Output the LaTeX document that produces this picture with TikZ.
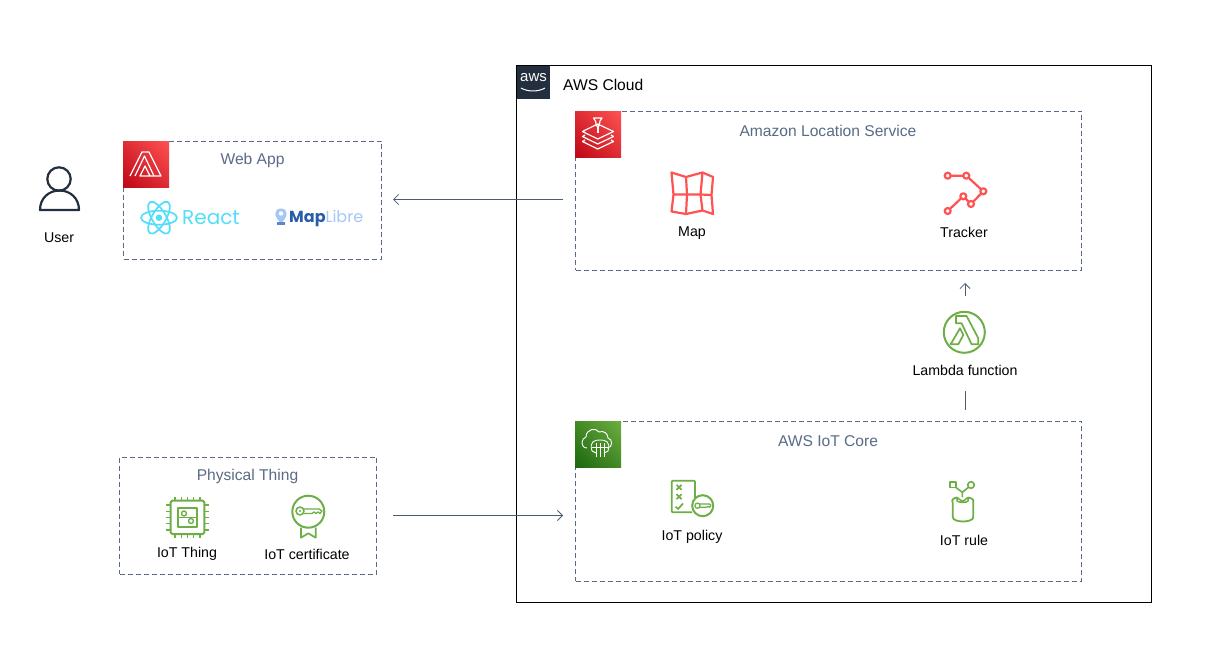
\documentclass[tikz,border=0pt]{standalone}
\usepackage{fontspec}
\setmainfont{Liberation Sans}
\newfontfamily\logofont{Poppins}
\usetikzlibrary{arrows.meta,shadings}
\definecolor{slate}{HTML}{5A6B86}
\definecolor{squid}{HTML}{232F3E}
\definecolor{redlo}{HTML}{BD0816}
\definecolor{redhi}{HTML}{FF5252}
\definecolor{greenlo}{HTML}{1B660F}
\definecolor{greenhi}{HTML}{6CAE3E}
\definecolor{iotgreen}{HTML}{6DAE45}
\definecolor{reactblue}{HTML}{53DEFB}
\definecolor{mapdark}{HTML}{295DAA}
\definecolor{maplight}{HTML}{A3C8F7}
\tikzset{
  groupbox/.style={draw=slate,dashed,dash pattern=on 5pt off 3pt,line width=0.9pt,inner sep=0pt},
  grouptext/.style={text=slate,font=\fontsize{15.6}{18}\selectfont},
  itemtext/.style={text=black,font=\fontsize{14.2}{16}\selectfont},
  tagbox/.style={anchor=north west,inner sep=0pt,minimum size=46pt},
  tagred/.style={tagbox,lower left=redlo,upper right=redhi,upper left=redlo!50!redhi,lower right=redlo!50!redhi},
  taggreen/.style={tagbox,lower left=greenlo,upper right=greenhi,upper left=greenlo!50!greenhi,lower right=greenlo!50!greenhi},
  tagline/.style={draw=white,line width=1.2pt,line join=round},
  redicon/.style={draw=redhi,line width=2.2pt,line join=round},
  greenicon/.style={draw=iotgreen,line width=2pt,line join=round},
  flow/.style={draw=slate!85!black,line width=0.8pt},
  flowarrow/.style={flow,-{Straight Barb[length=5pt,width=10pt]}}
}
\begin{document}
\begin{tikzpicture}[x=1pt,y=-1pt]
\useasboundingbox[fill=white] (0,0) rectangle (1223,660);

\node (cloud) [draw=black,line width=1pt,minimum width=635pt,minimum height=536pt,inner sep=0pt] at (834,334) {};
\node (awstag) [anchor=north west,fill=squid,minimum size=33pt,inner sep=0pt] at (517,66) {};
\node (awslogo) [text=white,font=\fontsize{15}{16}\selectfont] at (533.5,77.5) {aws};
\draw[white,line width=1pt] (521,88) .. controls (528,92) and (538,92) .. (545,88);
\node (cloudlabel) [anchor=west,text=black,font=\fontsize{15.6}{18}\selectfont] at (559.7,84.5) {AWS Cloud};

\node (location) [groupbox,minimum width=506pt,minimum height=159pt] at (828.5,190.5) {};
\node (iotcore) [groupbox,minimum width=506pt,minimum height=160pt] at (828.5,501) {};
\node (webapp) [groupbox,minimum width=258pt,minimum height=118pt] at (252.5,200) {};
\node (physical) [groupbox,minimum width=257pt,minimum height=117pt] at (248,515.5) {};

\node (locationlabel) [grouptext] at (828,130.5) {Amazon Location Service};
\node (iotcorelabel) [grouptext] at (828,441) {AWS IoT Core};
\node (webapplabel) [grouptext] at (252.5,160.5) {Web App};
\node (physicallabel) [grouptext] at (247.5,476) {Physical Thing};

\node (webtag) [tagred] at (123,141) {};
\begin{scope}[shift={(123,141)}]
\draw[tagline] (7,35) -- (19,11) -- (26,11) -- (38,35) -- (17,35) -- (22,25) -- (27,35);
\draw[tagline] (12,35) -- (21.5,15) -- (31,35);
\end{scope}

\node (locationtag) [tagred] at (575,111) {};
\begin{scope}[shift={(575,111)}]
\draw[tagline] (18.5,7) -- (27,7) -- (25,10) -- (24,15) -- (21.5,15) -- (20.5,10) -- cycle;
\draw[tagline] (7.5,20.5) -- (22.7,13) -- (38.5,20.5) -- (22.7,28) -- cycle;
\draw[tagline] (10,24) -- (7.5,25.5) -- (22.7,33) -- (38.5,25.5) -- (36,24);
\draw[tagline] (10,29) -- (7.5,30.5) -- (22.7,38) -- (38.5,30.5) -- (36,29);
\draw[tagline,line width=1.6pt] (22.7,15) -- (22.7,22);
\end{scope}

\node (iottag) [taggreen] at (575,421) {};
\begin{scope}[shift={(575,421)}]
\draw[tagline,line width=0.9pt] (12,27) .. controls (5,27) and (6,17) .. (11,16) .. controls (11,8) and (21,6) .. (24,11) .. controls (29,9) and (33,13) .. (33,17) .. controls (38,18) and (38,27) .. (32,27);
\draw[tagline,line width=0.9pt] (17,30) .. controls (14,20) and (20,19) .. (25,19) .. controls (30,19) and (36,20) .. (33,30) -- (29,32);
\draw[tagline,line width=0.9pt] (21,32) -- (17,30);
\foreach \xpos in {21,25,29} \draw[tagline,line width=0.9pt] (\xpos,22) -- (\xpos,36);
\draw[tagline,line width=0.9pt] (17,26) -- (33,26);
\end{scope}

\draw[squid,line width=2.2pt] (59,179) circle [radius=11.7pt];
\draw[squid,line width=2.2pt,line join=round] (40,210) .. controls (40,198) and (49,190.5) .. (59.5,190.5) .. controls (70,190.5) and (79,198) .. (79,210) -- cycle;
\node (userlabel) [itemtext] at (59,237.5) {User};

\begin{scope}[shift={(159,217.7)}]
\foreach \tilt in {0,60,120}
  \draw[reactblue,line width=1.7pt,rotate=\tilt] (0,0) ellipse [x radius=18pt,y radius=7pt];
\fill[reactblue] (0,0) circle [radius=3.3pt];
\end{scope}
\node (reactlogo) [anchor=west,inner sep=0pt,text=reactblue,font=\logofont\fontsize{20}{22}\selectfont] at (182,218) {React};

\fill[maplight] (281,208.5) .. controls (273.5,208.5) and (273.5,217) .. (281,223) .. controls (288.5,217) and (288.5,208.5) .. (281,208.5) -- cycle;
\fill[white] (281,213.5) circle [radius=2.2pt];
\fill[mapdark!60!maplight] (277,222.5) rectangle (285,225.5);
\node (maplibrelogo) [anchor=west,inner sep=0pt,font=\logofont\fontsize{16}{18}\selectfont] at (289,218.5) {\textcolor{mapdark}{\bfseries Map}\textcolor{maplight}{Libre}};

\draw[redicon] (671.5,172.5) -- (686,177) -- (702.5,172.5) -- (713,177) -- (711.5,195) -- (713,214) -- (702.5,210.5) -- (686,214) -- (671.5,211.5) -- (673.5,194.5) -- cycle;
\draw[redicon] (686,177) -- (687,194.5) -- (686,214);
\draw[redicon] (702.5,172.5) -- (700.5,194.5) -- (702.5,210.5);
\draw[redicon] (673.5,194.5) -- (687,194.5) -- (700.5,194.5) -- (711.5,195);
\node (maplabel) [itemtext] at (692,233.5) {Map};

\draw[redicon] (947.7,175.7) -- (966.3,175.7) -- (983.3,191.3) -- (971,204) -- (963.3,196.3) -- (947.7,211);
\foreach \xpos/\ypos in {947.7/175.7,966.3/175.7,983.3/191.3,971/204,963.3/196.3,947.7/211}
  \draw[redicon,fill=white] (\xpos,\ypos) circle [radius=3pt];
\node (trackerlabel) [itemtext] at (964,232) {Tracker};

\begin{scope}[shift={(964.3,332.3)}]
\draw[greenicon] (0,0) circle [radius=20.5pt];
\draw[greenicon,line width=1.7pt] (-8.3,-16.3) -- (2.3,-16.3) -- (14,6) -- (14,12) -- (7.3,12) -- (-2.7,-9) -- (-8.3,-9) -- cycle;
\draw[greenicon,line width=1.7pt] (-13.7,12) -- (-4.3,-4) -- (-1,2.7) -- (-6,12) -- cycle;
\end{scope}
\node (lambdalabel) [itemtext] at (965,370) {Lambda function};

\draw[greenicon,rounded corners=1.5pt] (170.7,500.7) rectangle (204.3,534);
\draw[greenicon,line width=1.7pt] (178.3,508.3) rectangle (197.3,526.7);
\draw[greenicon,line width=1.5pt] (178.3,517.5) -- (197.3,517.5);
\draw[greenicon,line width=1.4pt,fill=white] (184,513.5) circle [radius=2.5pt] (191,521) circle [radius=2.5pt];
\foreach \offset in {0,1,2,3,4} {
  \draw[iotgreen,line width=1.4pt] (175+\offset*6.2,496.5) -- (175+\offset*6.2,500.7) (175+\offset*6.2,534) -- (175+\offset*6.2,538.3);
  \draw[iotgreen,line width=1.4pt] (166,505+\offset*6.2) -- (170.7,505+\offset*6.2) (204.3,505+\offset*6.2) -- (209,505+\offset*6.2);
}
\node (thinglabel) [itemtext] at (187,553.5) {IoT Thing};

\draw[greenicon] (308.3,511.7) circle [radius=16pt];
\draw[greenicon,line width=1.6pt] (300,511) circle [radius=4pt];
\fill[iotgreen] (300,511) circle [radius=1.2pt];
\draw[greenicon,line width=1.3pt] (304,509) -- (319,509) -- (322,511) -- (320,513.5) -- (318,512) -- (316,513.5) -- (314,512) -- (312,513.5) -- (304,513.5);
\draw[greenicon,line width=1.7pt] (301,527.7) -- (301,537.7) -- (308.3,533.3) -- (315.7,537.7) -- (315.7,527.7);
\node (certlabel) [itemtext] at (307,554) {IoT certificate};

\draw[greenicon,line width=1.7pt,rounded corners=1pt] (695,499) -- (695,480.7) -- (671.7,480.7) -- (671.7,512.3) -- (692,512.3);
\foreach \ypos in {487.3,496.7}
  \draw[greenicon,line width=1.7pt] (676.5,\ypos-2.5) -- (681.5,\ypos+2.5) (676.5,\ypos+2.5) -- (681.5,\ypos-2.5);
\draw[greenicon,line width=1.7pt] (675.5,506.5) -- (678,509) -- (683,503.5);
\draw[greenicon,fill=white] (702.7,505.7) circle [radius=10.5pt];
\draw[greenicon,line width=1.3pt] (697.5,505.7) circle [radius=2.6pt];
\draw[greenicon,line width=1.2pt] (700,504) -- (709.5,504) -- (711,505.5) -- (709.5,507.3) -- (708,506.3) -- (706.5,507.3) -- (700,507.3);
\node (policylabel) [itemtext] at (692,537) {IoT policy};

\draw[greenicon,line width=1.6pt] (950,481.7) rectangle (955.7,487.3);
\draw[greenicon,line width=1.6pt] (971,485) circle [radius=3.3pt];
\draw[greenicon,line width=1.6pt] (955.7,487.3) -- (962.3,492.3) -- (968.5,487.3) (962.3,492.3) -- (962.3,497);
\draw[greenicon,line width=1.8pt] (957,497.5) .. controls (950,499) and (952.7,502) .. (952.7,503) -- (952.7,517) .. controls (952.7,523) and (973.3,523) .. (973.3,517) -- (973.3,503) .. controls (973.3,501) and (975,499) .. (968,497.5);
\draw[greenicon,line width=1.5pt] (957,497.5) -- (957,501) .. controls (960,503) and (966,503) .. (968,501) -- (968,497.5) -- (962.5,501.5) -- cycle;
\node (rulelabel) [itemtext] at (964,540) {IoT rule};

\coordinate (locationout) at (563,199.5);
\coordinate (webappin) at (393,199.5);
\coordinate (physicalout) at (393,515.5);
\coordinate (iotcorein) at (563,515.5);
\coordinate (lambdaout) at (965,296);
\coordinate (trackerin) at (965,283);
\coordinate (ruleout) at (965,410);
\coordinate (lambdain) at (965,391);
\draw[flowarrow] (locationout) -- (webappin);
\draw[flowarrow] (physicalout) -- (iotcorein);
\draw[flowarrow] (lambdaout) -- (trackerin);
\draw[flow] (ruleout) -- (lambdain);
\end{tikzpicture}
\end{document}
